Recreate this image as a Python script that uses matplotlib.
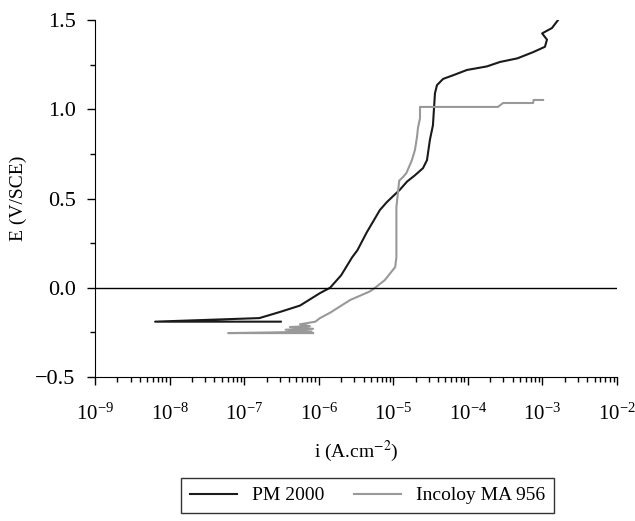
import matplotlib
matplotlib.use('Agg')
import matplotlib.pyplot as plt
from matplotlib.ticker import LogLocator, MultipleLocator, NullFormatter

plt.rcParams['font.family'] = ['Liberation Serif', 'DejaVu Serif']
plt.rcParams['mathtext.fontset'] = 'stix'

# PM 2000 polarisation curve (current density A/cm2, potential V/SCE)
pm_i = [3.1e-7, 6.4e-9, 1.6e-7, 3.0e-7, 5.6e-7, 1.04e-6, 1.42e-6, 2.0e-6, 2.8e-6,
        3.3e-6, 4.4e-6, 6.6e-6, 8.2e-6, 1.23e-5, 1.53e-5, 1.95e-5, 2.5e-5, 2.83e-5,
        3.1e-5, 3.4e-5, 3.62e-5, 3.85e-5, 4.65e-5, 6.3e-5, 9.7e-5, 1.8e-4, 2.7e-4,
        4.6e-4, 7.5e-4, 1.08e-3, 1.15e-3, 9.9e-4, 1.34e-3, 1.62e-3]
pm_E = [-0.19, -0.19, -0.17, -0.136, -0.10, -0.03, 0.0, 0.07, 0.17,
        0.21, 0.31, 0.435, 0.48, 0.55, 0.595, 0.63, 0.67, 0.715,
        0.83, 0.91, 1.09, 1.135, 1.17, 1.19, 1.22, 1.24, 1.265,
        1.285, 1.32, 1.35, 1.39, 1.425, 1.455, 1.50]

# Incoloy MA 956 polarisation curve
inc_i = [8.4e-7, 6.1e-8, 2.6e-7, 8.0e-7, 3.6e-7, 8.4e-7, 4.1e-7, 7.6e-7, 5.6e-7,
         9.0e-7, 1.04e-6, 1.42e-6, 2.63e-6, 4.88e-6, 5.7e-6, 7.7e-6, 1.06e-5,
         1.1e-5, 1.1e-5, 1.2e-5, 1.35e-5, 1.5e-5, 1.78e-5, 1.95e-5, 2.08e-5,
         2.14e-5, 2.28e-5, 2.28e-5, 2.53e-4, 2.96e-4, 7.5e-4, 7.6e-4, 1.02e-3]
inc_E = [-0.254, -0.254, -0.25, -0.245, -0.235, -0.23, -0.22, -0.215, -0.205,
         -0.19, -0.17, -0.14, -0.069, -0.02, 0.0, 0.043, 0.116,
         0.17, 0.45, 0.60, 0.62, 0.643, 0.716, 0.772, 0.845,
         0.895, 0.95, 1.013, 1.013, 1.035, 1.035, 1.052, 1.052]

fig = plt.figure(figsize=(6.35, 5.21), dpi=100)
ax = fig.add_axes([0.1496, 0.2764, 0.8221, 0.6852])

ax.plot(pm_i, pm_E, color='#1a1a1a', lw=1.5, label='PM 2000')
ax.plot(inc_i, inc_E, color='#999999', lw=1.5, label='Incoloy MA 956')
ax.axhline(0, color='black', lw=1.0)

ax.set_xscale('log')
ax.set_xlim(1e-9, 1e-2)
ax.set_ylim(-0.5, 1.5)
ax.set_xticks([1e-9, 1e-8, 1e-7, 1e-6, 1e-5, 1e-4, 1e-3, 1e-2])
ax.xaxis.set_minor_locator(LogLocator(base=10, subs=range(2, 10), numticks=20))
ax.xaxis.set_minor_formatter(NullFormatter())
ax.yaxis.set_major_locator(MultipleLocator(0.5))
ax.yaxis.set_minor_locator(MultipleLocator(0.25))
ax.yaxis.set_major_formatter(plt.FuncFormatter(lambda v, p: '\u2212%.1f' % -v if v < 0 else '%.1f' % v))

for s in ['top', 'right']:
    ax.spines[s].set_visible(False)
ax.tick_params(which='major', length=6, width=1)
ax.tick_params(which='minor', length=3.5, width=1)
ax.tick_params(axis='x', which='major', pad=13, labelsize=15)
ax.tick_params(axis='y', which='major', pad=8, labelsize=16)

ax.set_xlabel('i (A.cm$^{-2}$)', fontsize=14, labelpad=10)
ax.set_ylabel('E (V/SCE)', fontsize=14, labelpad=6)

leg = fig.legend(*ax.get_legend_handles_labels(), loc='upper center',
                 bbox_to_anchor=(0.579, 0.0825), borderaxespad=0, ncol=2, frameon=True,
                 fancybox=False, edgecolor='black', fontsize=14, handlelength=2.4,
                 borderpad=0.45, columnspacing=1.5, handletextpad=0.8)
leg.get_frame().set_linewidth(1.0)

fig.savefig('out.png', dpi=100)
